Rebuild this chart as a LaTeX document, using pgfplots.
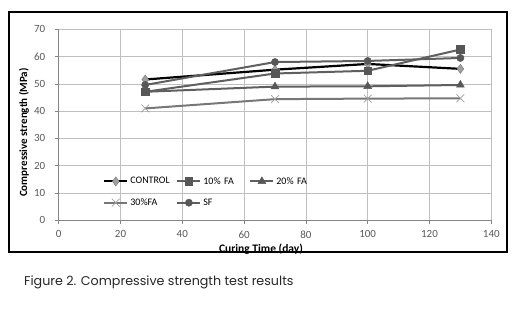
\documentclass[border=0pt]{standalone}
\usepackage{fontspec}
\setmainfont{Carlito}
\newfontfamily\capfont{Poppins}
\usepackage{pgfplots}
\pgfplotsset{compat=1.18}
\definecolor{tickgray}{HTML}{595959}
\definecolor{gridgray}{HTML}{BFBFBF}
\definecolor{axisgray}{HTML}{868686}
\definecolor{sergray}{HTML}{5F5F5F}
\definecolor{markgray}{HTML}{575757}
\definecolor{lightmark}{HTML}{A0A0A0}
\begin{document}
\begin{tikzpicture}
\path[use as bounding box] (-58.7pt,-91.7pt) rectangle (460.3pt,220.3pt);
\draw[line width=1.1pt,black] (-49.7pt,-31.7pt) rectangle (448.3pt,208.3pt);
\begin{axis}[
  at={(0pt,0pt)}, anchor=south west,
  scale only axis, width=432.6pt, height=191pt,
  xmin=0, xmax=140, ymin=0, ymax=70,
  xtick={0,20,...,140}, ytick={0,10,...,70},
  axis x line*=bottom, axis y line*=left,
  axis line style={axisgray, line width=0.8pt, -},
  tick align=outside, major tick length=4pt,
  tick style={axisgray, line width=0.7pt},
  grid=major, major grid style={gridgray, line width=0.7pt},
  /pgf/number format/assume math mode=true,
  ticklabel style={font=\fontsize{11}{13}\selectfont, text=tickgray},
  xticklabel style={yshift=-3pt},
  yticklabel style={xshift=-6pt},
  xlabel={Curing Time (day)}, ylabel={Compressive strength (MPa)},
  xlabel style={font=\fontsize{11.5}{13}\selectfont\bfseries, text=black,
    at={(axis description cs:0.4677,0)}, anchor=north, inner sep=0pt, yshift=-23pt},
  ylabel style={font=\fontsize{11}{13}\selectfont\bfseries, text=black,
    at={(axis description cs:-0.0802,0.4597)}, anchor=center, inner sep=0pt},
  legend columns=3,
  legend style={draw=none, fill=none, at={(axis description cs:0.1024,0.148)}, anchor=west,
    font=\fontsize{10}{12}\selectfont, row sep=9pt, inner sep=0pt, cells={anchor=west}},
  /tikz/every even column/.append style={text width=44pt},
  /tikz/column 4/.append style={text width=53pt},
  legend image code/.code={\draw[mark repeat=2,mark phase=2,#1] plot coordinates {(0pt,0pt)(11.5pt,0pt)(23pt,0pt)};},
  clip=false,
]
\addplot[black, line width=2.2pt, mark=diamond*, mark size=4.5pt,
  mark options={fill=lightmark, draw=gray, line width=0.5pt}]
  coordinates {(28,51.6) (70,55.2) (100,57.3) (130,55.5)};
\addlegendentry{CONTROL}
\addplot[sergray, line width=2pt, mark=square*, mark size=3.8pt,
  mark options={fill=markgray, draw=markgray, line width=0.5pt}]
  coordinates {(28,47.1) (70,53.8) (100,54.8) (130,62.6)};
\addlegendentry{10\% FA}
\addplot[sergray, line width=2pt, mark=triangle*, mark size=4.5pt,
  mark options={fill=markgray, draw=markgray, line width=0.5pt}]
  coordinates {(28,47.1) (70,49.0) (100,49.1) (130,49.6)};
\addlegendentry{20\% FA}
\addplot[sergray!85, line width=2pt, mark=x, mark size=5.5pt,
  mark options={draw=lightmark, line width=0.7pt}]
  coordinates {(28,41.0) (70,44.4) (100,44.6) (130,44.7)};
\addlegendentry{30\%FA}
\addplot[sergray, line width=2pt, mark=*, mark size=3.6pt,
  mark options={fill=markgray, draw=markgray, line width=0.5pt}]
  coordinates {(28,49.6) (70,58.0) (100,58.4) (130,59.5)};
\addlegendentry{SF}
\end{axis}
\node[anchor=base west, inner sep=0pt, font=\capfont\fontsize{12.7}{15}\selectfont, text=black!85]
  at (-34.7pt,-65.7pt) {Figure 2. Compressive strength test results};
\end{tikzpicture}
\end{document}
